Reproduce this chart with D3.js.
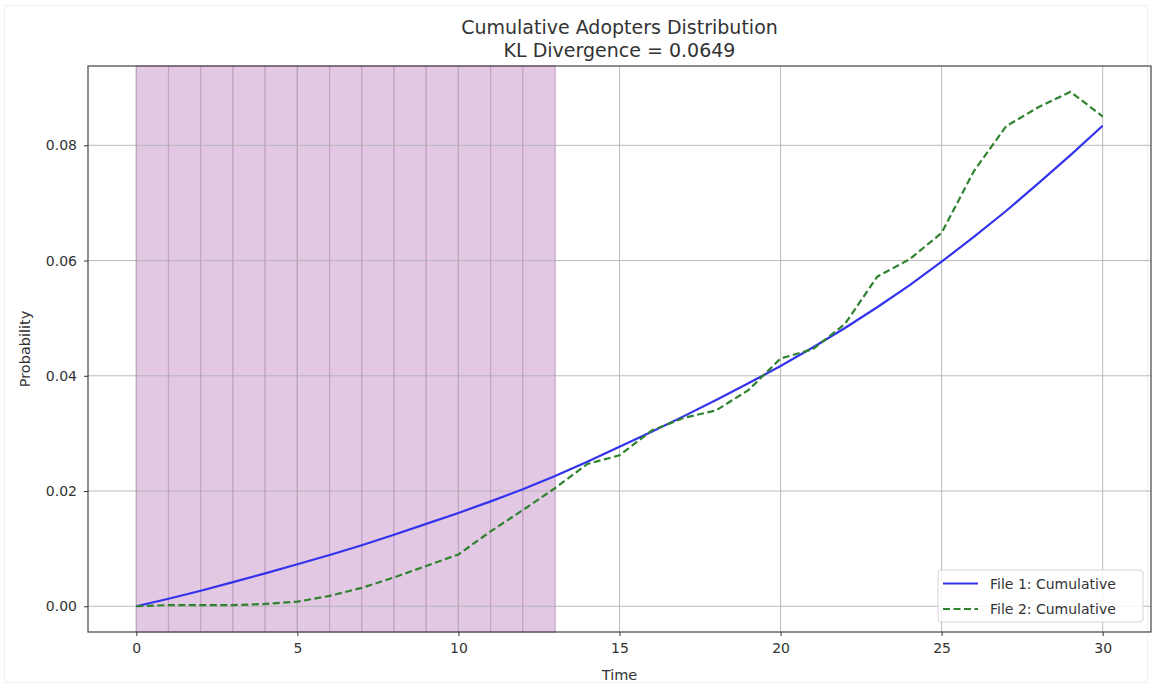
<!DOCTYPE html>
<html>
<head>
<meta charset="utf-8">
<script src="https://cdn.jsdelivr.net/npm/d3@7/dist/d3.min.js"></script>
<style>
  html, body { margin: 0; padding: 0; background: #ffffff; }
  svg { display: block; font-family: "DejaVu Sans", sans-serif; }
</style>
</head>
<body>
<svg id="chart" width="1152" height="687"></svg>
<script>
// Time steps
const timeSteps = d3.range(0, 31);

// File 1: cumulative adopters probability
const file1Cumulative = [
  0.0000, 0.0013, 0.0027, 0.0042, 0.0057, 0.0073, 0.0089, 0.0106, 0.0124, 0.0143,
  0.0162, 0.0182, 0.0203, 0.0226, 0.0251, 0.0277, 0.0303, 0.0330, 0.0358, 0.0387,
  0.0417, 0.0449, 0.0483, 0.0519, 0.0557, 0.0598, 0.0641, 0.0686, 0.0734, 0.0783,
  0.0834
];

// File 2: cumulative adopters probability
const file2Cumulative = [
  0.0000, 0.0002, 0.0002, 0.0002, 0.0004, 0.0008, 0.0018, 0.0032, 0.0050, 0.0070,
  0.0090, 0.0130, 0.0167, 0.0205, 0.0247, 0.0262, 0.0305, 0.0327, 0.0340, 0.0375,
  0.0430, 0.0446, 0.0490, 0.0572, 0.0602, 0.0648, 0.0755, 0.0833, 0.0866, 0.0893,
  0.0850
];

// Highlighted (shaded) time intervals
const shadedStarts = d3.range(0, 13);

const xTicks = [0, 5, 10, 15, 20, 25, 30];
const yTicks = [0.00, 0.02, 0.04, 0.06, 0.08];

const titleLines = ["Cumulative Adopters Distribution", "KL Divergence = 0.0649"];
const seriesLabels = ["File 1: Cumulative", "File 2: Cumulative"];

const svg = d3.select("#chart");
const W = 1152, H = 687;
const plot = { left: 88, right: 1151, top: 66, bottom: 632 };

// faint outer frame of the figure
svg.append("rect").attr("x", 4.5).attr("y", 5.5).attr("width", W - 9).attr("height", H - 10)
  .attr("fill", "none").attr("stroke", "#f0f0f0").attr("stroke-width", 1);

// Data limits with 5% margins
const xMin = 0, xMax = 30;
const yDataMax = d3.max(file2Cumulative.concat(file1Cumulative));
const xPad = (xMax - xMin) * 0.05;
const yPad = yDataMax * 0.05;

const x = d3.scaleLinear().domain([xMin - xPad, xMax + xPad]).range([plot.left, plot.right]);
const y = d3.scaleLinear().domain([0 - yPad, yDataMax + yPad]).range([plot.bottom, plot.top]);

const g = svg.append("g");

// Shaded intervals
g.append("g").selectAll("rect").data(shadedStarts).join("rect")
  .attr("x", d => x(d))
  .attr("y", plot.top)
  .attr("width", d => x(d + 1) - x(d))
  .attr("height", plot.bottom - plot.top)
  .attr("fill", "#e3c8e4")
  .attr("stroke", "#c6a0c8")
  .attr("stroke-width", 1.2);

// Grid
const grid = g.append("g").attr("stroke", "#b0b0b0").attr("stroke-width", 1).attr("opacity", 0.85);
grid.selectAll("line.v").data(xTicks).join("line").attr("class", "v")
  .attr("x1", d => x(d)).attr("x2", d => x(d))
  .attr("y1", plot.top).attr("y2", plot.bottom);
grid.selectAll("line.h").data(yTicks).join("line").attr("class", "h")
  .attr("x1", plot.left).attr("x2", plot.right)
  .attr("y1", d => y(d)).attr("y2", d => y(d));

// Lines
const line = d3.line().x((d, i) => x(timeSteps[i])).y(d => y(d));

g.append("path").datum(file1Cumulative)
  .attr("d", line)
  .attr("fill", "none")
  .attr("stroke", "#3333ee")
  .attr("stroke-width", 2.2)
  .attr("stroke-linejoin", "round");

g.append("path").datum(file2Cumulative)
  .attr("d", line)
  .attr("fill", "none")
  .attr("stroke", "#2f832f")
  .attr("stroke-width", 2.2)
  .attr("stroke-dasharray", "7,3.5");

// Axes
const xAxis = d3.axisBottom(x).tickValues(xTicks).tickFormat(d3.format("d")).tickSize(4).tickPadding(7);
const yAxis = d3.axisLeft(y).tickValues(yTicks).tickFormat(d3.format(".2f")).tickSize(4).tickPadding(7);

const gx = svg.append("g").attr("transform", `translate(0,${plot.bottom})`).call(xAxis);
const gy = svg.append("g").attr("transform", `translate(${plot.left},0)`).call(yAxis);
[gx, gy].forEach(a => {
  a.select(".domain").remove();
  a.selectAll("text").attr("font-size", 14).attr("fill", "#333").attr("font-family", "DejaVu Sans, sans-serif");
  a.selectAll("line").attr("stroke", "#333");
});

// Spines
svg.append("rect")
  .attr("x", plot.left).attr("y", plot.top)
  .attr("width", plot.right - plot.left).attr("height", plot.bottom - plot.top)
  .attr("fill", "none").attr("stroke", "#444").attr("stroke-width", 1.2);

// Axis labels
svg.append("text").attr("x", (plot.left + plot.right) / 2).attr("y", 680)
  .attr("text-anchor", "middle").attr("font-size", 14.5).attr("fill", "#333").text("Time");
svg.append("text")
  .attr("transform", `translate(30,${(plot.top + plot.bottom) / 2}) rotate(-90)`)
  .attr("text-anchor", "middle").attr("font-size", 14.5).attr("fill", "#333").text("Probability");

// Title
svg.append("g").selectAll("text").data(titleLines).join("text")
  .attr("x", (plot.left + plot.right) / 2)
  .attr("y", (d, i) => 34 + i * 23)
  .attr("text-anchor", "middle").attr("font-size", 19).attr("fill", "#333")
  .text(d => d);

// Legend
const lg = svg.append("g").attr("transform", "translate(938,570)");
lg.append("rect").attr("x", 0).attr("y", 0).attr("width", 205).attr("height", 52).attr("rx", 3)
  .attr("fill", "#ffffff").attr("fill-opacity", 0.85).attr("stroke", "#d6d6d6");
const styles = [
  { color: "#3333ee", dash: null },
  { color: "#2f832f", dash: "7,3.5" }
];
seriesLabels.forEach((label, i) => {
  const yy = 13.5 + i * 25.5;
  lg.append("line").attr("x1", 5).attr("x2", 40).attr("y1", yy).attr("y2", yy)
    .attr("stroke", styles[i].color).attr("stroke-width", 2.2)
    .attr("stroke-dasharray", styles[i].dash);
  lg.append("text").attr("x", 52).attr("y", yy + 5).attr("font-size", 14).attr("fill", "#333").text(label);
});
</script>
</body>
</html>
